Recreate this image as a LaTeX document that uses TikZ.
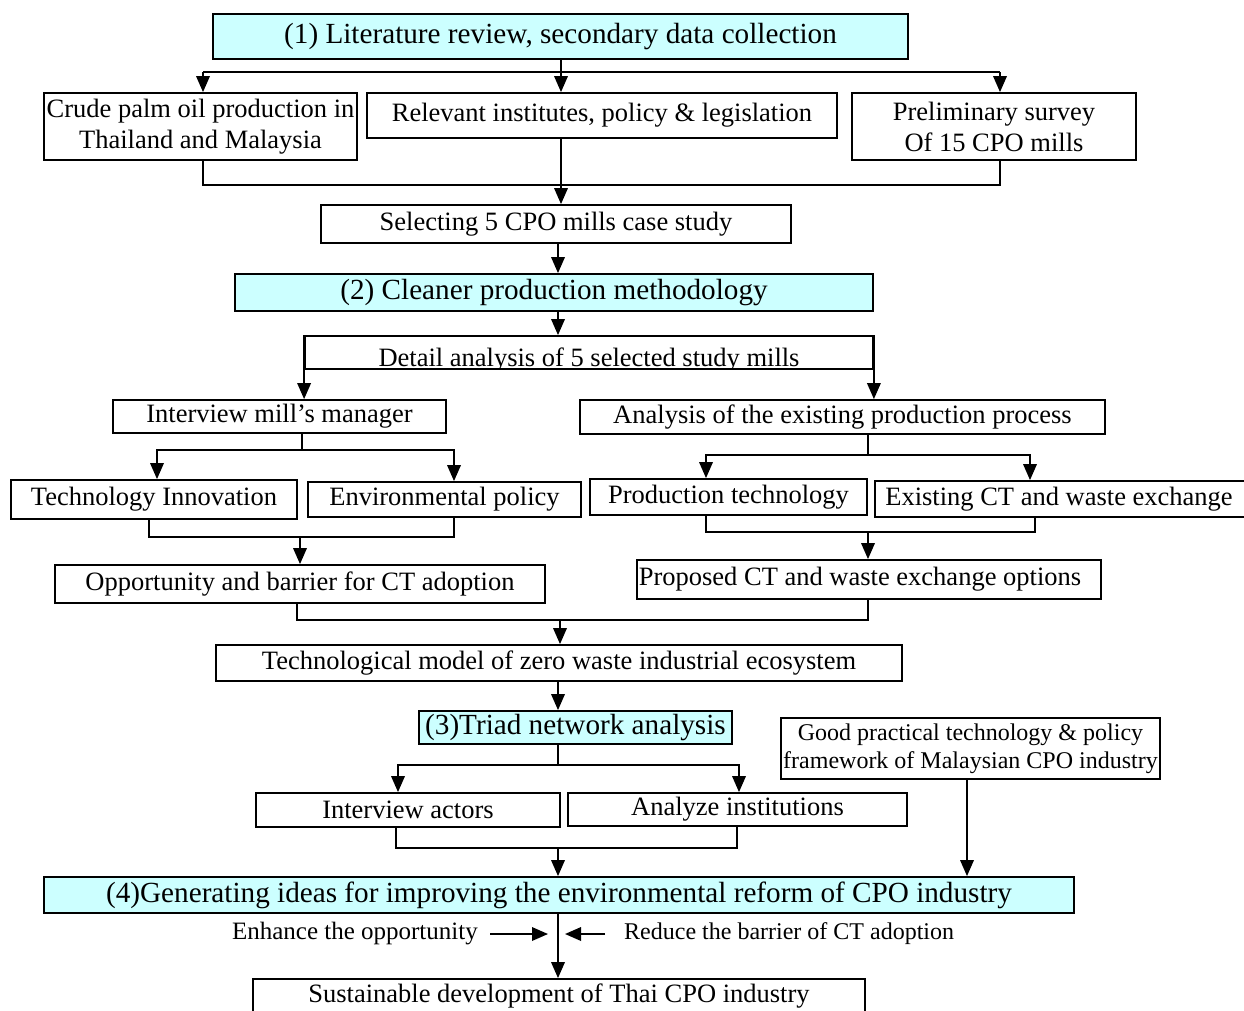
\documentclass[tikz,border=0pt]{standalone}
\usepackage{fontspec}
\setmainfont{Liberation Serif}
\usetikzlibrary{arrows.meta}
\definecolor{headfill}{HTML}{CCFFFF}
\begin{document}
\begin{tikzpicture}[x=1pt,y=-1pt,
  box/.style 2 args={draw, line width=1.8pt, minimum width=#1pt, minimum height=#2pt,
    inner sep=0pt, align=center, font=\fontsize{26.5}{31}\selectfont},
  head/.style={fill=headfill, font=\fontsize{29.2}{33}\selectfont},
  link/.style={line width=1.8pt},
  arr/.style={link, -{Triangle[length=16pt,width=13.5pt]}},
]
\clip (0,0) rectangle (1244,1010);

% stage 1
\node[box={695}{45}, head] (l1) at (560.5,36.5) {(1) Literature review, secondary data collection};
\node[box={313}{67}] (crude) at (200.5,126.5) {Crude palm oil production in\\Thailand and Malaysia};
\node[box={470}{45}] (rel) at (602,115.5) {Relevant institutes, policy \& legislation};
\node[box={284}{67}] (prelim) at (994,126.5) {Preliminary survey\\Of 15 CPO mills};
\node[box={470}{38}] (sel) at (556,224) {Selecting 5 CPO mills case study};

% stage 2
\node[box={638}{37}, head] (cp) at (554,292.5) {(2) Cleaner production methodology};
\node[box={568}{33}, path picture={\node[anchor=base, inner sep=0pt] at ([yshift=3pt]path picture bounding box.south) {Detail analysis of 5 selected study mills};}] (detail) at (589,352.5) {};
\node[box={333}{33}] (imm) at (279.5,416.5) {Interview mill’s manager};
\node[box={525}{34}] (ana) at (842.5,417) {Analysis of the existing production process};
\node[box={286}{39}] (ti) at (154,499.5) {Technology Innovation};
\node[box={273}{35}] (ep) at (444.5,499.5) {Environmental policy};
\node[box={277}{36}] (pt) at (728.5,497) {Production technology};
\node[box={375}{36}] (ect) at (1062.5,499) {\hspace*{-7pt}Existing CT and waste exchange};
\node[box={490}{38}] (opp) at (300,584) {Opportunity and barrier for CT adoption};
\node[box={464}{39}] (prop) at (869,579.5) {\hspace*{-18pt}Proposed CT and waste exchange options};
\node[box={686}{36}] (tm) at (559,663) {Technological model of zero waste industrial ecosystem};

% stage 3
\node[box={313}{33}, head] (triad) at (575.5,727.5) {(3)Triad network analysis};
\node[box={304}{34}] (ia) at (408,810) {Interview actors};
\node[box={339}{33}] (ai) at (737.5,809.5) {\raisebox{-3pt}{Analyze institutions}};
\node[box={379}{61}, font=\fontsize{24}{28}\selectfont] (gp) at (970.5,748.5) {Good practical technology \& policy\\framework of Malaysian CPO industry};

% stage 4
\node[box={1030}{36}, head] (gen) at (559,895) {(4)Generating ideas for improving the environmental reform of CPO industry};
\node[font=\fontsize{25}{29}\selectfont, anchor=east, inner sep=0pt] (enh) at (478,934) {Enhance the opportunity};
\node[font=\fontsize{24}{28}\selectfont, anchor=west, inner sep=0pt] (red) at (624,934) {Reduce the barrier of CT adoption};
\node[box={612}{46}, text depth=18pt] (sus) at (559,1002) {Sustainable development of Thai CPO industry};

% rails
\coordinate (r1) at (561,72);
\coordinate (r2) at (561,185);
\coordinate (r3) at (302,450);
\coordinate (r4) at (300,537);
\coordinate (r5) at (868,455);
\coordinate (r6) at (868,532);
\coordinate (r7) at (560,620);
\coordinate (r8) at (558,765);
\coordinate (r9) at (558,848);
\coordinate (ea) at (548,934);
\coordinate (rb) at (605,934);
\coordinate (rt) at (565,934);

% stage 1 connectors
\draw[arr] (l1.south -| r1) -- (rel.north -| r1);
\draw[link] ([xshift=2.5pt]crude.north |- r1) -- ([xshift=6pt]prelim.north |- r1);
\draw[arr] ([xshift=2.5pt]crude.north |- r1) -- ([xshift=2.5pt]crude.north);
\draw[arr] ([xshift=6pt]prelim.north |- r1) -- ([xshift=6pt]prelim.north);
\draw[link] ([xshift=2.5pt]crude.south) |- (r2) -| ([xshift=6pt]prelim.south);
\draw[arr] (rel.south -| r2) -- (sel.north -| r2);
\draw[arr] ([xshift=2pt]sel.south) -- ([xshift=2pt]sel.south |- cp.north);

% stage 2 connectors
\draw[arr] ([xshift=4pt]cp.south) -- ([xshift=4pt]cp.south |- detail.north);
\draw[arr] (detail.north west) -- (detail.north west |- imm.north);
\draw[arr] (detail.north east) -- (detail.north east |- ana.north);
\draw[link] (imm.south -| r3) -- (r3);
\draw[arr] (r3) -| ([xshift=3pt]ti.north);
\draw[arr] (r3) -| ([xshift=9.5pt]ep.north);
\draw[link] ([xshift=-5pt]ti.south) |- (r4) -| ([xshift=9.5pt]ep.south);
\draw[arr] (r4) -- (r4 |- opp.north);
\draw[link] (ana.south -| r5) -- (r5);
\draw[arr] (r5) -| ([xshift=-22.5pt]pt.north);
\draw[arr] (r5) -| ([xshift=-32.5pt]ect.north);
\draw[link] ([xshift=-22.5pt]pt.south) |- (r6) -| ([xshift=-27.5pt]ect.south);
\draw[arr] (r6) -- (r6 |- prop.north);
\draw[link] ([xshift=-3pt]opp.south) |- (r7) -| (prop.south -| r6);
\draw[arr] (r7) -- (r7 |- tm.north);

% stage 3 connectors
\draw[arr] (tm.south -| r8) -- (triad.north -| r8);
\draw[link] (triad.south -| r8) -- (r8);
\draw[arr] (r8) -| ([xshift=-10pt]ia.north);
\draw[arr] (r8) -| ([xshift=1.5pt]ai.north);
\draw[link] ([xshift=-12pt]ia.south) |- (r9) -| ([xshift=-0.5pt]ai.south);
\draw[arr] (r9) -- (r9 |- gen.north);
\draw[arr] ([xshift=-3.5pt]gp.south) -- ([xshift=-3.5pt]gp.south |- gen.north);

% stage 4 connectors
\draw[arr] (gen.south -| r9) -- (sus.north -| r9);
\draw[arr] ([xshift=12pt]enh.east) -- (ea);
\draw[arr] (rb) -- (rt);
\end{tikzpicture}
\end{document}
